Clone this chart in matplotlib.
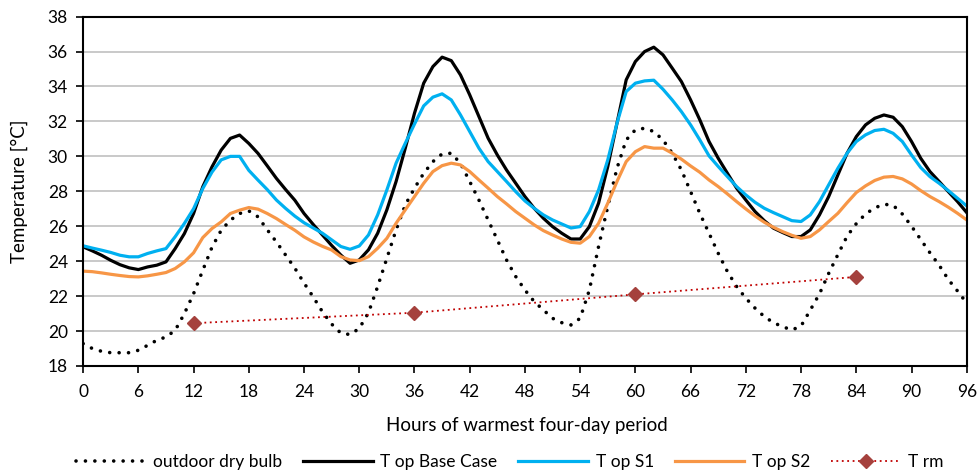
import matplotlib
matplotlib.use("Agg")
import matplotlib.pyplot as plt
import numpy as np

plt.rcParams['font.family'] = ['Lato', 'DejaVu Sans']

hours = list(range(0, 97))

outdoor = [19.28, 19.0, 18.84, 18.76, 18.76, 18.76, 18.9, 19.18, 19.47, 19.66,
           20.04, 21.0, 22.14, 23.48, 24.8, 25.77, 26.35, 26.73, 26.88, 26.54,
           25.8, 25.1, 24.35, 23.6, 22.75, 21.95, 21.1, 20.4, 19.88, 19.8,
           20.15, 21.05, 22.55, 24.17, 25.79, 27.22, 28.18, 29.03, 29.7, 30.14,
           30.18, 29.6, 28.56, 27.5, 26.36, 25.22, 24.07, 23.12, 22.35, 21.69,
           21.21, 20.73, 20.48, 20.35, 20.73, 22.35, 24.84, 27.13, 29.32, 30.94,
           31.52, 31.61, 31.42, 30.94, 30.18, 29.22, 27.98, 26.74, 25.6, 24.45,
           23.4, 22.55, 21.88, 21.31, 20.83, 20.48, 20.25, 20.06, 20.29, 21.2,
           22.13, 23.3, 24.38, 25.43, 26.15, 26.7, 27.05, 27.26, 27.2, 26.7,
           26.0, 25.24, 24.48, 23.77, 22.95, 22.29, 21.6]

base = [24.82, 24.59, 24.34, 24.05, 23.8, 23.62, 23.52, 23.67, 23.77, 23.96,
        24.72, 25.58, 26.73, 28.26, 29.4, 30.36, 31.03, 31.22, 30.74, 30.17,
        29.46, 28.74, 28.1, 27.49, 26.73, 26.1, 25.5, 24.9, 24.35, 23.88,
        24.07, 24.65, 25.6, 26.94, 28.56, 30.47, 32.47, 34.19, 35.14, 35.68,
        35.48, 34.66, 33.52, 32.28, 31.04, 30.08, 29.22, 28.46, 27.7, 27.03,
        26.46, 25.98, 25.6, 25.27, 25.27, 25.98, 27.32, 29.42, 31.9, 34.38,
        35.43, 36.0, 36.25, 35.81, 35.05, 34.28, 33.23, 32.09, 30.85, 29.89,
        29.03, 28.18, 27.5, 26.84, 26.32, 25.89, 25.64, 25.41, 25.41, 25.79,
        26.65, 27.7, 28.94, 30.18, 31.13, 31.8, 32.18, 32.37, 32.24, 31.7,
        30.85, 29.89, 29.13, 28.56, 27.98, 27.41, 26.78]

s1 = [24.88, 24.75, 24.63, 24.5, 24.34, 24.25, 24.25, 24.44, 24.59, 24.72,
      25.4, 26.16, 27.0, 28.16, 29.1, 29.8, 30.0, 30.0, 29.2, 28.64,
      28.1, 27.5, 27.02, 26.58, 26.2, 25.9, 25.6, 25.22, 24.84, 24.68,
      24.87, 25.5, 26.65, 28.08, 29.61, 30.75, 31.85, 32.89, 33.39, 33.58,
      33.23, 32.37, 31.42, 30.47, 29.7, 29.13, 28.56, 27.98, 27.45, 27.03,
      26.65, 26.36, 26.13, 25.9, 25.98, 26.84, 28.08, 29.8, 31.9, 33.71,
      34.19, 34.32, 34.36, 33.84, 33.23, 32.56, 31.8, 30.94, 30.03, 29.42,
      28.84, 28.27, 27.79, 27.37, 27.03, 26.78, 26.55, 26.32, 26.27, 26.65,
      27.41, 28.37, 29.32, 30.18, 30.85, 31.23, 31.48, 31.55, 31.32, 30.85,
      30.08, 29.36, 28.84, 28.46, 28.04, 27.6, 27.16]

s2 = [23.43, 23.4, 23.33, 23.25, 23.18, 23.12, 23.1, 23.16, 23.25, 23.35,
      23.58, 23.96, 24.48, 25.35, 25.87, 26.25, 26.73, 26.92, 27.07, 26.98,
      26.73, 26.44, 26.1, 25.77, 25.39, 25.1, 24.85, 24.64, 24.26, 24.07,
      24.03, 24.26, 24.74, 25.31, 26.17, 26.94, 27.7, 28.46, 29.13, 29.47,
      29.61, 29.51, 29.13, 28.65, 28.18, 27.7, 27.28, 26.84, 26.46, 26.08,
      25.75, 25.5, 25.27, 25.08, 25.03, 25.41, 26.17, 27.32, 28.56, 29.7,
      30.27, 30.56, 30.47, 30.47, 30.18, 29.84, 29.45, 29.09, 28.65, 28.27,
      27.85, 27.41, 26.99, 26.59, 26.23, 25.94, 25.69, 25.48, 25.31, 25.41,
      25.79, 26.27, 26.74, 27.35, 27.93, 28.31, 28.62, 28.81, 28.85, 28.71,
      28.42, 28.04, 27.7, 27.41, 27.09, 26.74, 26.36]

trm_hours = [12, 36, 60, 84]
trm = [20.45, 21.05, 22.1, 23.1]

xticks = list(range(0, 97, 6))
yticks = list(range(18, 39, 2))

fig = plt.figure(figsize=(9.78, 4.75), dpi=100)
ax = fig.add_axes([0.085, 0.2295, 0.9035, 0.7355])

ax.plot(hours, outdoor, color='black', lw=2.6, linestyle=(0, (0.01, 2.6)),
        dash_capstyle='round', label='outdoor dry bulb')
ax.plot(hours, base, color='black', lw=2.3, label='T op Base Case')
ax.plot(hours, s1, color='#00b0f0', lw=2.3, label='T op S1')
ax.plot(hours, s2, color='#f79646', lw=2.3, label='T op S2')
ax.plot(trm_hours, trm, color='#c00000', lw=1.3, linestyle=(0, (1, 2)),
        marker='D', markersize=7, markerfacecolor='#a5413d',
        markeredgecolor='#a5413d', label='T rm')

ax.set_xlim(0, 96)
ax.set_ylim(18, 38)
ax.set_xticks(xticks)
ax.set_yticks(yticks)
ax.yaxis.grid(True, color='#c0c0c0', lw=1.2)
ax.set_axisbelow(True)
for sp in ax.spines.values():
    sp.set_linewidth(1.5)
ax.tick_params(axis='both', labelsize=12.5, width=1.2, length=5, direction='out')
ax.tick_params(axis='x', pad=8)
ax.tick_params(axis='y', pad=6)

ax.set_xlabel('Hours of warmest four-day period', fontsize=13.5)
ax.set_ylabel('Temperature [°C]', fontsize=13.5)
ax.xaxis.set_label_coords(0.502, -0.145)
ax.yaxis.set_label_coords(-0.062, 0.5)

ax.legend(loc='center', bbox_to_anchor=(0.483, -0.274), ncol=5,
          frameon=False, fontsize=12.5, handlelength=4.0, columnspacing=1.2,
          handletextpad=0.45)

fig.savefig('out.png', dpi=100)
